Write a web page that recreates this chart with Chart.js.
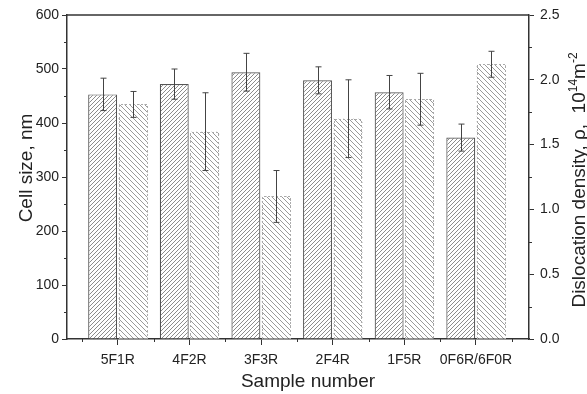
<!DOCTYPE html>
<html>
<head>
<meta charset="utf-8">
<script src="https://cdn.jsdelivr.net/npm/chart.js@4.4.0/dist/chart.umd.min.js"></script>
<style>
  html, body { margin: 0; padding: 0; background: #fff; }
</style>
</head>
<body>
<canvas id="myChart" width="587" height="394"></canvas>
<script>
// Data
const samples = ["5F1R", "4F2R", "3F3R", "2F4R", "1F5R", "0F6R/6F0R"];
const cellSize = [453, 472, 494, 479, 457, 373];
const cellSizeErr = [30, 28, 35, 25, 31, 25];
const density = [1.81, 1.6, 1.1, 1.7, 1.85, 2.12];
const densityErr = [0.1, 0.3, 0.2, 0.3, 0.2, 0.1];
const cellTicks = [0, 100, 200, 300, 400, 500, 600];
const densityTicks = [0, 0.5, 1.0, 1.5, 2.0, 2.5];

const font = "'Liberation Sans', Arial, sans-serif";
const ink = "#222";
const axisCol = "#333";

// hatch fill for the bars
function hatch(dir, gap, color) {
  const c = document.createElement("canvas");
  c.width = gap;
  c.height = gap;
  const g = c.getContext("2d");
  g.fillStyle = "#fff";
  g.fillRect(0, 0, gap, gap);
  g.strokeStyle = color;
  g.lineWidth = 1;
  g.beginPath();
  if (dir > 0) {
    g.moveTo(-1, gap + 1); g.lineTo(gap + 1, -1);
    g.moveTo(-1, 1); g.lineTo(1, -1);
    g.moveTo(gap - 1, gap + 1); g.lineTo(gap + 1, gap - 1);
  } else {
    g.moveTo(-1, -1); g.lineTo(gap + 1, gap + 1);
    g.moveTo(gap - 1, -1); g.lineTo(gap + 1, 1);
    g.moveTo(-1, gap - 1); g.lineTo(1, gap + 1);
  }
  g.stroke();
  return g.createPattern(c, "repeat");
}

// error bars, dashed outlines, minor ticks, frame and titles
const extras = {
  id: "extras",
  afterDatasetsDraw(chart) {
    const ctx = chart.ctx;
    const yL = chart.scales.y;
    const yR = chart.scales.y1;

    const m1 = chart.getDatasetMeta(1);
    ctx.save();
    ctx.strokeStyle = "#aaa";
    ctx.lineWidth = 1;
    ctx.setLineDash([2, 2]);
    m1.data.forEach((b) => {
      const l = Math.round(b.x - b.width / 2) + 0.5;
      const r = Math.round(b.x + b.width / 2) - 0.5;
      const t = Math.round(b.y) + 0.5;
      const bot = Math.round(b.base);
      ctx.beginPath();
      ctx.moveTo(l, bot); ctx.lineTo(l, t); ctx.lineTo(r, t); ctx.lineTo(r, bot);
      ctx.stroke();
    });
    ctx.restore();

    const drawErr = (meta, vals, errs, scale) => {
      meta.data.forEach((b, i) => {
        const x = Math.round(b.x) + 0.5;
        const top = scale.getPixelForValue(vals[i] + errs[i]);
        const bot = scale.getPixelForValue(vals[i] - errs[i]);
        ctx.beginPath();
        ctx.moveTo(x, top); ctx.lineTo(x, bot);
        ctx.moveTo(x - 3, top); ctx.lineTo(x + 3, top);
        ctx.moveTo(x - 3, bot); ctx.lineTo(x + 3, bot);
        ctx.stroke();
      });
    };
    ctx.save();
    ctx.strokeStyle = "#444";
    ctx.lineWidth = 1;
    drawErr(chart.getDatasetMeta(0), cellSize, cellSizeErr, yL);
    drawErr(m1, density, densityErr, yR);
    ctx.restore();
  },
  afterDraw(chart) {
    const ctx = chart.ctx;
    const a = chart.chartArea;
    const xs = chart.scales.x;
    const yL = chart.scales.y;
    const yR = chart.scales.y1;

    ctx.save();
    ctx.strokeStyle = axisCol;
    ctx.lineWidth = 1.5;
    ctx.beginPath();
    ctx.moveTo(a.left, a.top); ctx.lineTo(a.right, a.top);
    ctx.stroke();

    // minor ticks
    ctx.lineWidth = 1;
    ctx.beginPath();
    for (let i = 0; i < cellTicks.length - 1; i++) {
      const py = Math.round(yL.getPixelForValue((cellTicks[i] + cellTicks[i + 1]) / 2)) + 0.5;
      ctx.moveTo(a.left - 3, py); ctx.lineTo(a.left, py);
    }
    for (let i = 0; i < densityTicks.length - 1; i++) {
      const py = Math.round(yR.getPixelForValue((densityTicks[i] + densityTicks[i + 1]) / 2)) + 0.5;
      ctx.moveTo(a.right, py); ctx.lineTo(a.right + 3, py);
    }
    for (let i = 0; i <= samples.length; i++) {
      const px = Math.round(xs.getPixelForValue(i - 0.5)) + 0.5;
      ctx.moveTo(px, a.bottom); ctx.lineTo(px, a.bottom + 3);
    }
    ctx.stroke();

    // axis titles
    ctx.fillStyle = ink;
    ctx.textBaseline = "alphabetic";
    ctx.font = "19px " + font;
    ctx.textAlign = "center";
    ctx.fillText("Sample number", 308, 387);

    ctx.save();
    ctx.translate(32, 168);
    ctx.rotate(-Math.PI / 2);
    ctx.fillText("Cell size, nm", 0, 0);
    ctx.restore();

    ctx.save();
    ctx.translate(585, 180);
    ctx.rotate(-Math.PI / 2);
    ctx.textAlign = "left";
    const parts = [
      ["Dislocation density, \u03C1,  10", 19, 0],
      ["14", 12, -8],
      ["m", 19, 0],
      ["-2", 12, -8],
    ];
    let total = 0;
    parts.forEach((p) => {
      ctx.font = p[1] + "px " + font;
      total += ctx.measureText(p[0]).width;
    });
    let x = -total / 2;
    parts.forEach((p) => {
      ctx.font = p[1] + "px " + font;
      ctx.fillText(p[0], x, p[2]);
      x += ctx.measureText(p[0]).width;
    });
    ctx.restore();

    ctx.restore();
  },
};

const tickFont = { size: 14, family: font };

new Chart(document.getElementById("myChart"), {
  type: "bar",
  data: {
    datasets: [
      {
        label: "Cell size",
        data: samples.map((s, i) => ({ x: i, y: cellSize[i] })),
        yAxisID: "y",
        backgroundColor: hatch(1, 4, "#8c8c8c"),
        borderColor: "#555",
        borderWidth: 1.2,
        borderSkipped: "start",
      },
      {
        label: "Dislocation density",
        data: samples.map((s, i) => ({ x: i, y: density[i] })),
        yAxisID: "y1",
        backgroundColor: hatch(-1, 5, "#9a9a9a"),
        borderWidth: 0,
      },
    ],
  },
  options: {
    responsive: false,
    animation: false,
    devicePixelRatio: 1,
    categoryPercentage: 0.85,
    barPercentage: 0.95,
    layout: { padding: { top: 15, left: 0, right: 0, bottom: 0 } },
    plugins: { legend: { display: false }, tooltip: { enabled: false } },
    scales: {
      x: {
        type: "linear",
        min: -0.71,
        max: 5.74,
        offset: false,
        afterBuildTicks: (s) => { s.ticks = samples.map((_, i) => ({ value: i })); },
        afterFit: (s) => { s.height = 55; },
        ticks: {
          callback: (v) => samples[v],
          font: tickFont,
          color: ink,
          padding: 7,
          maxRotation: 0,
          autoSkip: false,
        },
        grid: { offset: false, drawOnChartArea: false, tickLength: 6, tickColor: axisCol, tickWidth: 1 },
        border: { color: axisCol, width: 1.5 },
      },
      y: {
        position: "left",
        min: 0,
        max: 600,
        afterBuildTicks: (s) => { s.ticks = cellTicks.map((v) => ({ value: v })); },
        afterFit: (s) => { s.width = 67; },
        ticks: { font: tickFont, color: ink, padding: 3 },
        grid: { drawOnChartArea: false, tickLength: 5, tickColor: axisCol, tickWidth: 1 },
        border: { color: axisCol, width: 1.5 },
      },
      y1: {
        position: "right",
        min: 0,
        max: 2.5,
        afterBuildTicks: (s) => { s.ticks = densityTicks.map((v) => ({ value: v })); },
        afterFit: (s) => { s.width = 58; },
        ticks: { font: tickFont, color: ink, padding: 6, callback: (v) => v.toFixed(1) },
        grid: { drawOnChartArea: false, tickLength: 5, tickColor: axisCol, tickWidth: 1 },
        border: { color: axisCol, width: 1.5 },
      },
    },
  },
  plugins: [extras],
});
</script>
</body>
</html>
